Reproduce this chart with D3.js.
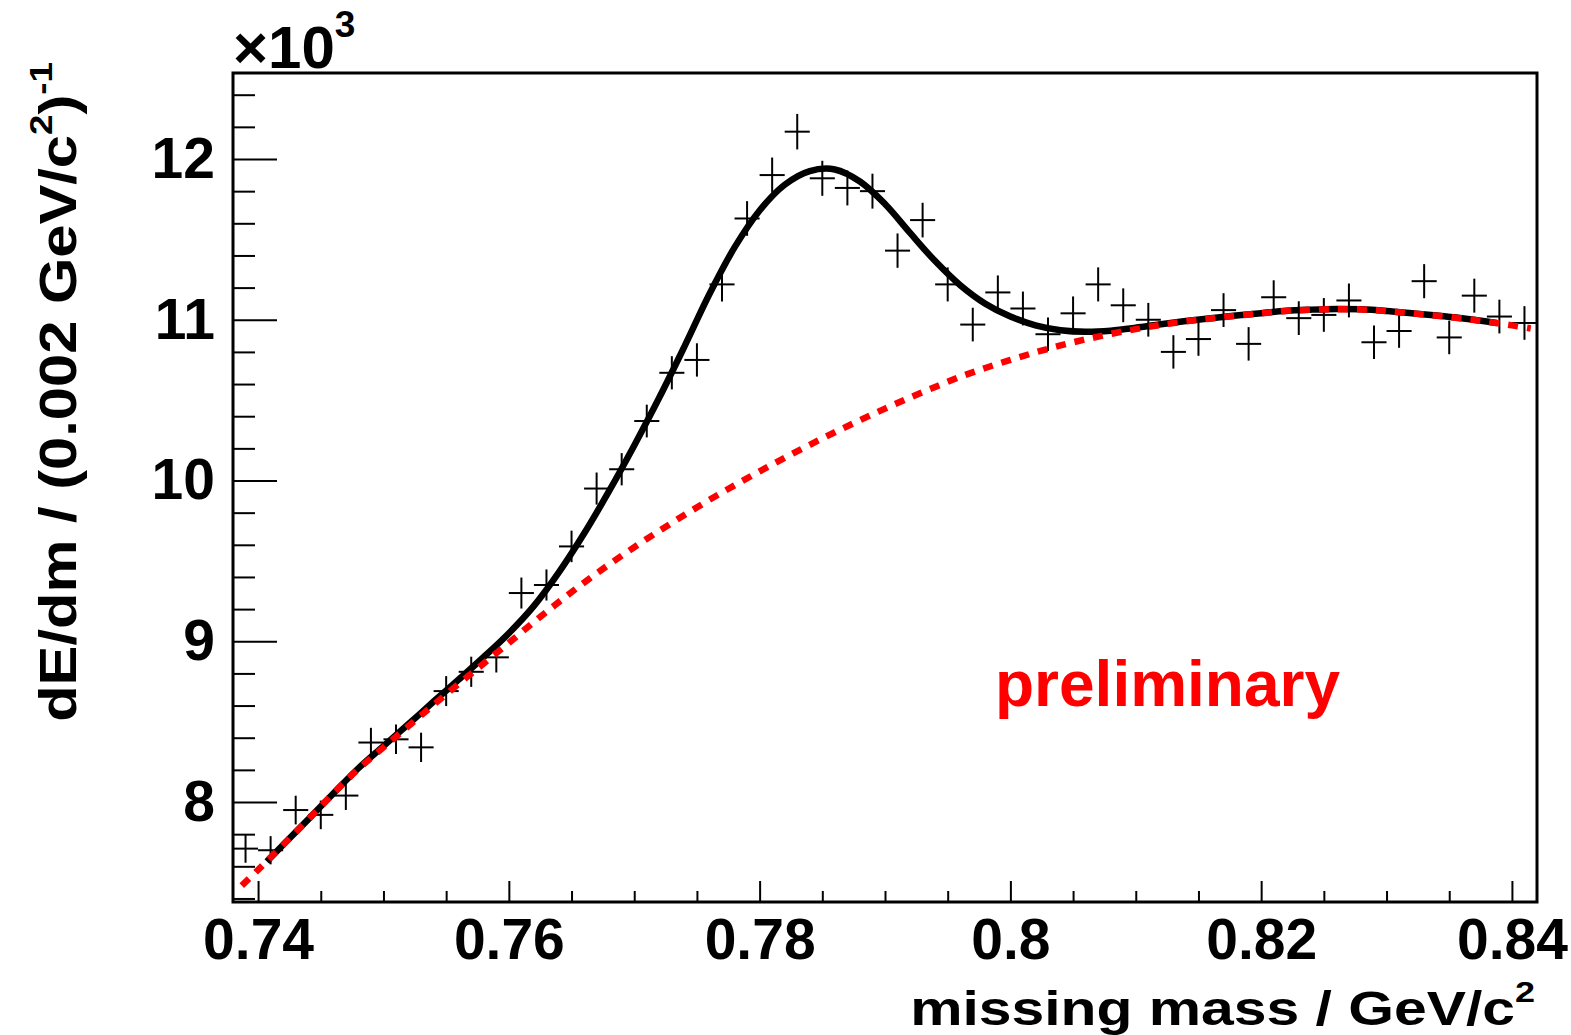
<!DOCTYPE html>
<html>
<head>
<meta charset="utf-8">
<script src="https://cdn.jsdelivr.net/npm/d3@7"></script>
<style>
  html, body { margin: 0; padding: 0; background: #fff; }
  svg text { font-family: "Liberation Sans", Arial, Helvetica, sans-serif; font-weight: bold; }
</style>
</head>
<body>
<svg id="chart" width="1571" height="1035"></svg>
<script>
// bin centres (GeV/c^2), 0.002 wide
const massBins = [0.739, 0.741, 0.743, 0.745, 0.747, 0.749, 0.751, 0.753, 0.755, 0.757,
  0.759, 0.761, 0.763, 0.765, 0.767, 0.769, 0.771, 0.773, 0.775, 0.777,
  0.779, 0.781, 0.783, 0.785, 0.787, 0.789, 0.791, 0.793, 0.795, 0.797,
  0.799, 0.801, 0.803, 0.805, 0.807, 0.809, 0.811, 0.813, 0.815, 0.817,
  0.819, 0.821, 0.823, 0.825, 0.827, 0.829, 0.831, 0.833, 0.835, 0.837,
  0.839, 0.841];
// measured yield, x10^3
const yieldValues = [7.71, 7.70, 7.95, 7.92, 8.04, 8.37, 8.39, 8.34, 8.69, 8.81,
  8.90, 9.30, 9.35, 9.59, 9.95, 10.07, 10.37, 10.67, 10.75, 11.22,
  11.63, 11.90, 12.17, 11.88, 11.82, 11.80, 11.43, 11.62, 11.22, 10.97,
  11.17, 11.07, 10.91, 11.04, 11.22, 11.09, 11.00, 10.80, 10.88, 11.06,
  10.85, 11.14, 11.01, 11.03, 11.12, 10.86, 10.93, 11.24, 10.89, 11.15,
  11.02, 10.98];

// total fit (signal + background)
const fitMass = [0.7407, 0.742, 0.744, 0.746, 0.748, 0.750, 0.752, 0.754, 0.756, 0.758,
  0.760, 0.762, 0.764, 0.766, 0.768, 0.770, 0.772, 0.774, 0.776, 0.778,
  0.780, 0.782, 0.784, 0.786, 0.788, 0.790, 0.792, 0.794, 0.796, 0.798,
  0.800, 0.802, 0.804, 0.806, 0.808, 0.810, 0.812, 0.814, 0.816, 0.818,
  0.820, 0.822, 0.824, 0.826, 0.828, 0.830, 0.832, 0.834, 0.836, 0.838, 0.8388];
const fitTotal = [7.63, 7.734, 7.892, 8.053, 8.21, 8.348, 8.485, 8.625, 8.762, 8.902,
  9.05, 9.22, 9.43, 9.67, 9.935, 10.218, 10.516, 10.833, 11.16, 11.45,
  11.68, 11.84, 11.925, 11.935, 11.86, 11.72, 11.54, 11.365, 11.215, 11.10,
  11.02, 10.965, 10.935, 10.925, 10.932, 10.95, 10.972, 10.992, 11.01, 11.026,
  11.041, 11.056, 11.063, 11.067, 11.065, 11.055, 11.041, 11.026, 11.009, 10.989, 10.98];

// background part of the fit
const bkgMass = [0.7387, 0.740, 0.742, 0.744, 0.746, 0.748, 0.750, 0.752, 0.754, 0.756,
  0.758, 0.760, 0.762, 0.764, 0.766, 0.768, 0.770, 0.772, 0.774, 0.776,
  0.778, 0.780, 0.782, 0.784, 0.786, 0.788, 0.790, 0.792, 0.794, 0.796,
  0.798, 0.800, 0.802, 0.804, 0.806, 0.808, 0.810, 0.812, 0.814, 0.816,
  0.818, 0.820, 0.822, 0.824, 0.826, 0.828, 0.830, 0.832, 0.834, 0.836,
  0.838, 0.840, 0.8415];
const fitBackground = [7.48, 7.578, 7.734, 7.892, 8.053, 8.205, 8.34, 8.473, 8.605, 8.735,
  8.862, 8.99, 9.12, 9.245, 9.365, 9.478, 9.585, 9.687, 9.785, 9.88,
  9.97, 10.057, 10.141, 10.222, 10.30, 10.375, 10.447, 10.516, 10.582, 10.645,
  10.70, 10.75, 10.797, 10.84, 10.878, 10.912, 10.942, 10.968, 10.99, 11.008,
  11.025, 11.04, 11.055, 11.062, 11.066, 11.064, 11.054, 11.04, 11.025, 11.008,
  10.988, 10.965, 10.946];

const xMajorTicks = [0.74, 0.76, 0.78, 0.80, 0.82, 0.84];
const xMinorTicks = [0.745, 0.75, 0.755, 0.765, 0.77, 0.775, 0.785, 0.79, 0.795,
  0.805, 0.81, 0.815, 0.825, 0.83, 0.835];
const yMajorTicks = [8, 9, 10, 11, 12];
const yMinorTicks = [7.4, 7.6, 7.8, 8.2, 8.4, 8.6, 8.8, 9.2, 9.4, 9.6, 9.8,
  10.2, 10.4, 10.6, 10.8, 11.2, 11.4, 11.6, 11.8, 12.2, 12.4];

const svg = d3.select('#chart');
const frame = {left: 233, right: 1537, top: 73, bottom: 902};

const x = d3.scaleLinear().domain([0.738, 0.842]).range([frame.left, frame.right]);
const y = d3.scaleLinear().domain([7.378, 12.535]).range([frame.bottom, frame.top]);

// axes, ticks pointing into the frame
svg.append('g')
    .attr('transform', `translate(0, ${frame.bottom})`)
    .call(d3.axisBottom(x).tickValues(xMinorTicks).tickSize(-11).tickFormat(''))
    .call(g => g.select('.domain').remove())
    .selectAll('line').attr('stroke-width', 2);

svg.append('g')
    .attr('transform', `translate(0, ${frame.bottom})`)
    .call(d3.axisBottom(x).tickValues(xMajorTicks).tickSize(-21).tickPadding(17)
        .tickFormat(d => String(+d.toFixed(2))))
    .call(g => g.select('.domain').remove())
    .call(g => g.selectAll('line').attr('stroke-width', 2))
    .selectAll('text')
    .attr('font-size', 57)
    .attr('fill', '#000');

svg.append('g')
    .attr('transform', `translate(${frame.left}, 0)`)
    .call(d3.axisLeft(y).tickValues(yMinorTicks).tickSize(-22).tickFormat(''))
    .call(g => g.select('.domain').remove())
    .selectAll('line').attr('stroke-width', 2);

svg.append('g')
    .attr('transform', `translate(${frame.left}, 0)`)
    .call(d3.axisLeft(y).tickValues(yMajorTicks).tickSize(-44).tickPadding(18)
        .tickFormat(d => String(d)))
    .call(g => g.select('.domain').remove())
    .call(g => g.selectAll('line').attr('stroke-width', 2))
    .selectAll('text')
    .attr('font-size', 57)
    .attr('fill', '#000');

svg.append('rect')
    .attr('x', frame.left).attr('y', frame.top)
    .attr('width', frame.right - frame.left).attr('height', frame.bottom - frame.top)
    .attr('fill', 'none').attr('stroke', '#000').attr('stroke-width', 3);

// data points: bin width horizontally, sqrt(N) error vertically
const points = massBins.map((m, i) => ({m: m, v: yieldValues[i], e: Math.sqrt(yieldValues[i] * 1000) / 1000}));
const marks = svg.append('g').attr('stroke', '#000').attr('stroke-width', 2);
marks.selectAll('line.h').data(points).join('line')
    .attr('class', 'h')
    .attr('x1', d => x(d.m - 0.001)).attr('x2', d => x(d.m + 0.001))
    .attr('y1', d => y(d.v)).attr('y2', d => y(d.v));
marks.selectAll('line.v').data(points).join('line')
    .attr('class', 'v')
    .attr('x1', d => x(d.m)).attr('x2', d => x(d.m))
    .attr('y1', d => y(d.v - d.e)).attr('y2', d => y(d.v + d.e));

// fit curves
const line = d3.line().x(d => x(d[0])).y(d => y(d[1])).curve(d3.curveCatmullRom.alpha(0.5));

svg.append('path')
    .datum(fitMass.map((m, i) => [m, fitTotal[i]]))
    .attr('d', line)
    .attr('fill', 'none').attr('stroke', '#000').attr('stroke-width', 6.5);

svg.append('path')
    .datum(bkgMass.map((m, i) => [m, fitBackground[i]]))
    .attr('d', line)
    .attr('fill', 'none').attr('stroke', '#ff0000').attr('stroke-width', 6.5)
    .attr('stroke-dasharray', '10 9');

// x10^3 multiplier
const mult = svg.append('text').attr('x', 233).attr('y', 68).attr('font-size', 60);
mult.append('tspan').text('\u00d710');
mult.append('tspan').attr('font-size', 37).attr('dy', -31).text('3');

// axis titles, stretched to the length they have in the original
const xTitleG = svg.append('g').attr('transform', 'translate(1535, 1025)');
const xTitle = xTitleG.append('text').attr('text-anchor', 'end').attr('font-size', 49);
xTitle.append('tspan').text('missing mass / GeV/c');
xTitle.append('tspan').attr('font-size', 30).attr('dy', -23).text('2');
const xw = xTitle.node().getBBox().width;
xTitle.attr('transform', `scale(${625 / xw}, 1)`);

const yTitleG = svg.append('g').attr('transform', 'translate(76, 62) rotate(-90)');
const yTitle = yTitleG.append('text').attr('text-anchor', 'end').attr('font-size', 52);
yTitle.append('tspan').text('dE/dm / (0.002 GeV/c');
yTitle.append('tspan').attr('font-size', 32).attr('dy', -24).text('2');
yTitle.append('tspan').attr('dy', 24).text(')');
yTitle.append('tspan').attr('font-size', 32).attr('dy', -24).text('-1');
const yw = yTitle.node().getBBox().width;
yTitle.attr('transform', `scale(${660 / yw}, 1)`);

svg.append('text')
    .attr('x', 995).attr('y', 706)
    .attr('font-size', 64)
    .attr('fill', '#ff0000')
    .text('preliminary');
</script>
</body>
</html>
